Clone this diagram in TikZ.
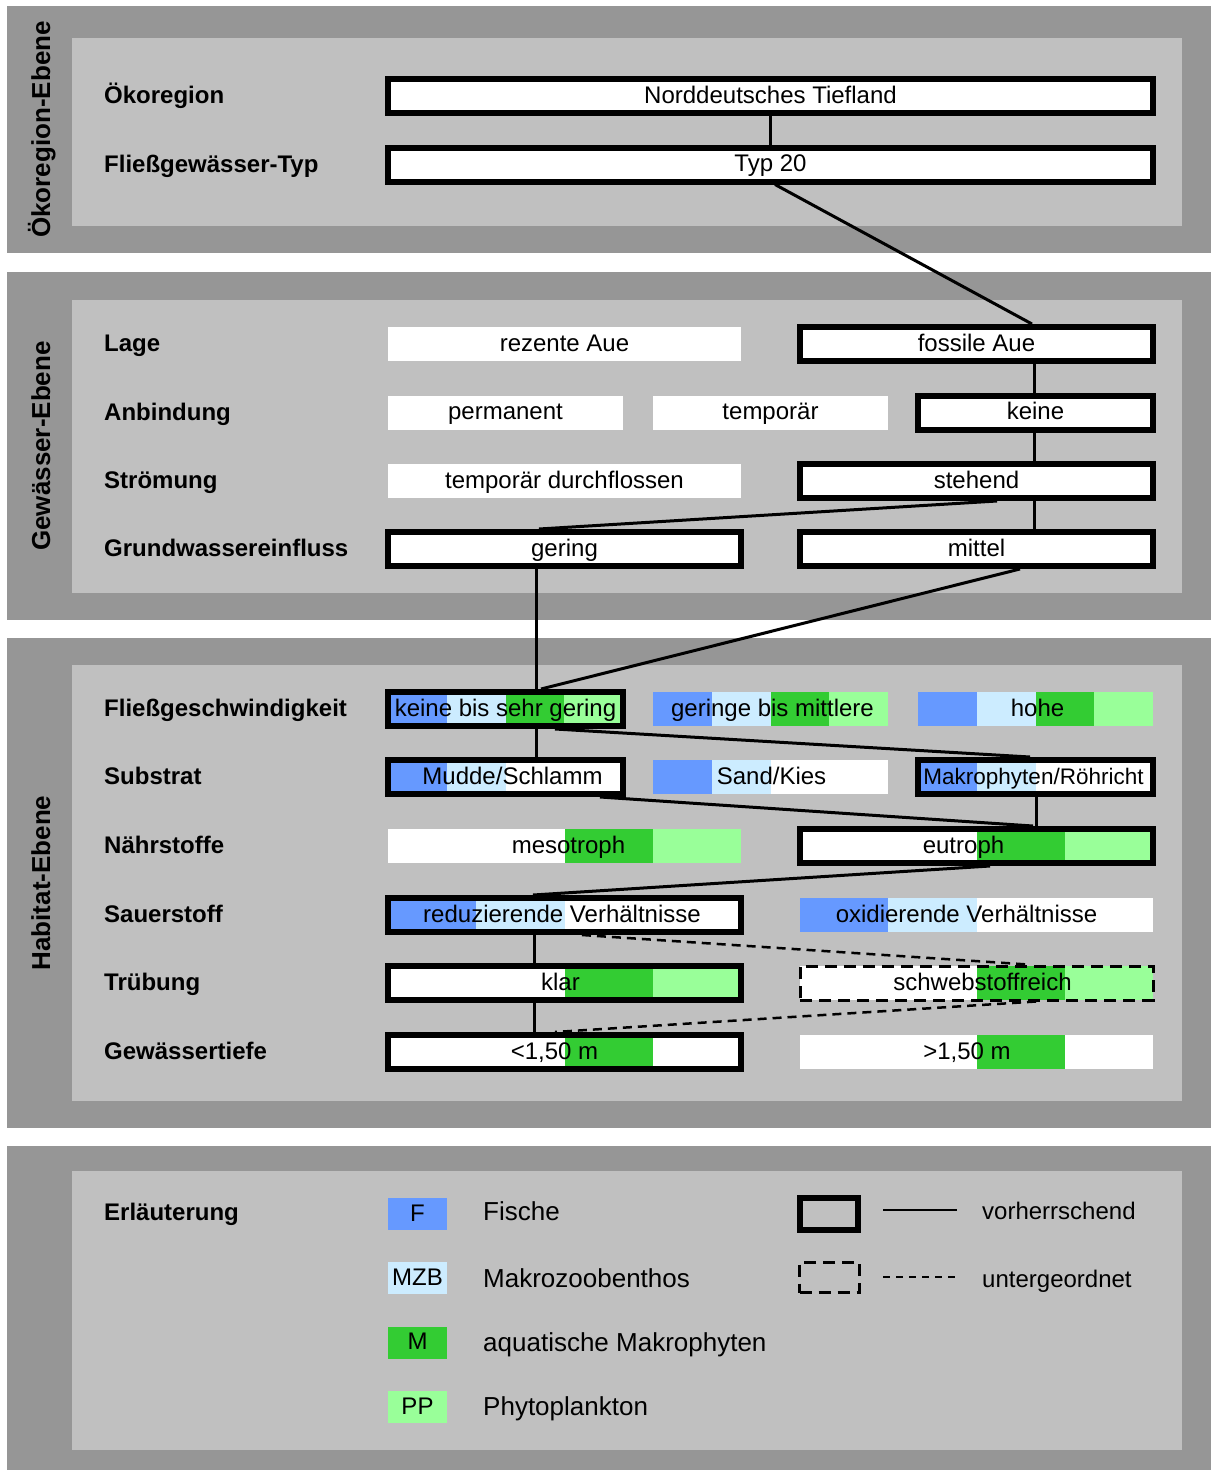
\documentclass[tikz,border=0pt]{standalone}
\usepackage{fontspec}
\setmainfont{Liberation Sans}
\usetikzlibrary{calc}

\definecolor{panelouter}{RGB}{150,150,150}
\definecolor{panelinner}{RGB}{192,192,192}
\definecolor{fish}{HTML}{6699FF}
\definecolor{mzb}{HTML}{CCECFF}
\definecolor{macro}{HTML}{33CC33}
\definecolor{plank}{HTML}{99FF99}

% four equal vertical colour strips inside a node
\newcommand\bandfill[4]{%
  \path (path picture bounding box.south west) coordinate (bbsw)
        (path picture bounding box.north east) coordinate (bbne);
  \fill[#1] (bbsw) rectangle ($(bbsw|-bbne)!0.25!(bbne)$);
  \fill[#2] ($(bbsw)!0.25!(bbsw-|bbne)$) rectangle ($(bbsw|-bbne)!0.5!(bbne)$);
  \fill[#3] ($(bbsw)!0.5!(bbsw-|bbne)$) rectangle ($(bbsw|-bbne)!0.75!(bbne)$);
  \fill[#4] ($(bbsw)!0.75!(bbsw-|bbne)$) rectangle (bbne);
}

\tikzset{
  opt/.style={rectangle, inner sep=0pt, outer sep=0pt, minimum height=34pt,
    text height=14pt, text depth=0pt, font=\fontsize{24}{28}\selectfont, fill=white},
  narrow/.style={minimum width=235pt},
  wide/.style={minimum width=353pt},
  full/.style={minimum width=765pt},
  chosen/.style={draw=black, line width=6pt, outer sep=3pt},
  minor/.style={draw=black, line width=3pt, dash pattern=on 12pt off 7pt, outer sep=1.5pt},
  bands/.style n args={4}{path picture={\bandfill{#1}{#2}{#3}{#4}}},
  tshift/.style={execute at begin node={\hspace*{#1}\hspace*{#1}}},
  rowlabel/.style={anchor=base west, inner sep=0pt, font=\fontsize{24}{28}\selectfont\bfseries},
  levellabel/.style={rotate=90, anchor=base, inner sep=0pt, font=\fontsize{26}{30}\selectfont\bfseries},
  link/.style={line width=3pt},
  minorlink/.style={line width=2.5pt, dash pattern=on 9pt off 6pt},
  key/.style={rectangle, inner sep=0pt, minimum width=59pt, minimum height=32pt,
    text height=14pt, text depth=0pt, font=\fontsize{24}{28}\selectfont},
  keytext/.style={anchor=base west, inner sep=0pt, font=\fontsize{26}{30}\selectfont},
  keytextsmall/.style={anchor=base west, inner sep=0pt, font=\fontsize{24}{28}\selectfont},
}

\begin{document}
\begin{tikzpicture}[x=1pt, y=-1pt]
\useasboundingbox (0,0) rectangle (1211,1470);

% level panels
\fill[panelouter] (7,6) rectangle (1211,253);
\fill[panelinner] (72,38) rectangle (1182,226);
\fill[panelouter] (7,272) rectangle (1211,620);
\fill[panelinner] (72,300) rectangle (1182,593);
\fill[panelouter] (7,638) rectangle (1211,1128);
\fill[panelinner] (72,665) rectangle (1182,1101);
\fill[panelouter] (7,1146) rectangle (1211,1470);
\fill[panelinner] (72,1171) rectangle (1182,1450);

% level titles
\node[levellabel] (lv1) at (50,129.5) {Ökoregion-Ebene};
\node[levellabel] (lv2) at (50,446) {Gewässer-Ebene};
\node[levellabel] (lv3) at (50,883) {Habitat-Ebene};

% row titles
\node[rowlabel] (r1)  at (104,103.5) {Ökoregion};
\node[rowlabel] (r2)  at (104,172)   {Fließgewässer-Typ};
\node[rowlabel] (r3)  at (104,351.5) {Lage};
\node[rowlabel] (r4)  at (104,420)   {Anbindung};
\node[rowlabel] (r5)  at (104,488.5) {Strömung};
\node[rowlabel] (r6)  at (104,556.5) {Grundwassereinfluss};
\node[rowlabel] (r7)  at (104,716.5) {Fließgeschwindigkeit};
\node[rowlabel] (r8)  at (104,784.5) {Substrat};
\node[rowlabel] (r9)  at (104,853.5) {Nährstoffe};
\node[rowlabel] (r10) at (104,922.5) {Sauerstoff};
\node[rowlabel] (r11) at (104,990.5) {Trübung};
\node[rowlabel] (r12) at (104,1059.5) {Gewässertiefe};

% Ökoregion level
\node[opt, full, chosen] (nt)  at (770.5,96)    {Norddeutsches Tiefland};
\node[opt, full, chosen] (t20) at (770.5,164.5) {Typ 20};

% Gewässer level
\node[opt, wide]           (rez)  at (564.5,344)   {rezente Aue};
\node[opt, wide, chosen]   (fos)  at (976.5,344)   {fossile Aue};
\node[opt, narrow]         (perm) at (505.5,412.5) {permanent};
\node[opt, narrow]         (temp) at (770.5,412.5) {temporär};
\node[opt, narrow, chosen] (kei)  at (1035.5,412.5) {keine};
\node[opt, wide]           (tdf)  at (564.5,481)   {temporär durchflossen};
\node[opt, wide, chosen]   (steh) at (976.5,481)   {stehend};
\node[opt, wide, chosen]   (ger)  at (564.5,549)   {gering};
\node[opt, wide, chosen]   (mit)  at (976.5,549)   {mittel};

% Habitat level
\node[opt, narrow, chosen, bands={fish}{mzb}{macro}{plank}] (kbs) at (505.5,709) {keine bis sehr gering};
\node[opt, narrow, bands={fish}{mzb}{macro}{plank}, tshift=2pt] (gbm) at (770.5,709) {geringe bis mittlere};
\node[opt, narrow, bands={fish}{mzb}{macro}{plank}, tshift=2pt] (hoh) at (1035.5,709) {hohe};

\node[opt, narrow, chosen, bands={fish}{mzb}{white}{white}, tshift=7pt] (mud) at (505.5,777) {Mudde/Schlamm};
\node[opt, narrow, bands={fish}{mzb}{white}{white}, tshift=1pt] (sand) at (770.5,777) {Sand/Kies};
\node[opt, narrow, chosen, bands={fish}{mzb}{white}{white}, tshift=-2pt,
      font=\fontsize{22.5}{27}\selectfont] (mak) at (1035.5,777) {Makrophyten/Röhricht};

\node[opt, wide, bands={white}{white}{macro}{plank}, tshift=4pt] (meso) at (564.5,846) {mesotroph};
\node[opt, wide, chosen, bands={white}{white}{macro}{plank}, tshift=-13pt] (eut) at (976.5,846) {eutroph};

\node[opt, wide, chosen, bands={fish}{mzb}{white}{white}, tshift=-2.5pt] (red) at (564.5,915) {reduzierende Verhältnisse};
\node[opt, wide, bands={fish}{mzb}{white}{white}, tshift=-10pt] (oxi) at (976.5,915) {oxidierende Verhältnisse};

\node[opt, wide, chosen, bands={white}{white}{macro}{plank}, tshift=-4pt] (klar) at (564.5,983) {klar};
\node[opt, wide, minor, bands={white}{white}{macro}{plank}, tshift=6pt] (schw) at (976.5,983) {schwebstoffreich};

\node[opt, wide, chosen, bands={white}{white}{macro}{white}, tshift=-10pt] (lt) at (564.5,1052) {<1,50 m};
\node[opt, wide, bands={white}{white}{macro}{white}, tshift=-9.5pt] (gt) at (976.5,1052) {>1,50 m};

% connectors of the prevailing path
\draw[link] (nt.south) -- (t20.north);
\draw[link] ([xshift=4.5pt]t20.south) -- ([xshift=55.5pt]fos.north);
\draw[link] ([xshift=57.5pt]fos.south) -- ([xshift=-1.5pt]kei.north);
\draw[link] ([xshift=-1.5pt]kei.south) -- ([xshift=57.5pt]steh.north);
\draw[link] ([xshift=57.5pt]steh.south) -- ([xshift=57.5pt]mit.north);
\draw[link] ([xshift=20.5pt]steh.south) -- ([xshift=-25.5pt]ger.north);
\draw[link] ([xshift=-28.5pt]ger.south) -- ([xshift=30.5pt]kbs.north);
\draw[link] ([xshift=43.5pt]mit.south) -- ([xshift=35.5pt]kbs.north);
\draw[link] ([xshift=30.5pt]kbs.south) -- ([xshift=30.5pt]mud.north);
\draw[link] ([xshift=49.5pt]kbs.south) -- ([xshift=-5.5pt]mak.north);
\draw[link] ([xshift=94.5pt]mud.south) -- ([xshift=56.5pt]eut.north);
\draw[link] ([xshift=0.5pt]mak.south) -- ([xshift=59.5pt]eut.north);
\draw[link] ([xshift=13.5pt]eut.south) -- ([xshift=-31.5pt]red.north);
\draw[link] ([xshift=-30.5pt]red.south) -- ([xshift=-30.5pt]klar.north);
\draw[link] ([xshift=-30.5pt]klar.south) -- ([xshift=-30.5pt]lt.north);

% connectors of the subordinate path
\draw[minorlink] ([xshift=17.5pt]red.south) -- ([xshift=51.5pt]schw.north);
\draw[minorlink] ([xshift=59.5pt]schw.south) -- ([xshift=-9.5pt]lt.north);

% legend
\node[rowlabel] (r13) at (104,1220) {Erläuterung};
\node[key, fill=fish]  (kF)   at (417.5,1214)   {F};
\node[key, fill=mzb]   (kMZB) at (417.5,1278)   {MZB};
\node[key, fill=macro] (kM)   at (417.5,1342.5) {M};
\node[key, fill=plank] (kPP)  at (417.5,1407)   {PP};
\node[keytext] (tF)   at (483,1220)   {Fische};
\node[keytext] (tMZB) at (483,1287)   {Makrozoobenthos};
\node[keytext] (tM)   at (483,1351.5) {aquatische Makrophyten};
\node[keytext] (tPP)  at (483,1415)   {Phytoplankton};

\node[rectangle, draw, line width=6pt, inner sep=0pt, minimum width=58pt, minimum height=32pt] (kbold) at (829,1214) {};
\coordinate (ls1) at (883,1210);
\coordinate (ls2) at (957,1210);
\draw[line width=1.5pt] (ls1) -- (ls2);
\node[keytextsmall] (tbold) at (982,1219.5) {vorherrschend};

\node[rectangle, draw, line width=3pt, dash pattern=on 12pt off 7pt, inner sep=0pt,
      minimum width=59.5pt, minimum height=30.5pt] (kdash) at (829.25,1277.25) {};
\coordinate (ld1) at (883,1277);
\coordinate (ld2) at (957,1277);
\draw[line width=1.5pt, dash pattern=on 7pt off 6pt] (ld1) -- (ld2);
\node[keytextsmall] (tdash) at (982,1287) {untergeordnet};
\end{tikzpicture}
\end{document}
